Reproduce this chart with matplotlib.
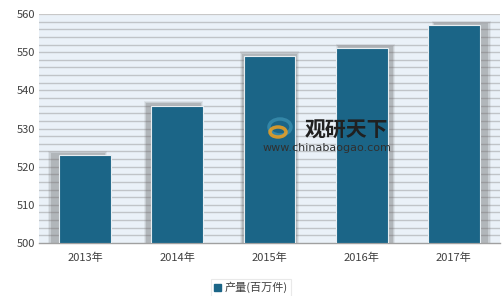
import matplotlib
matplotlib.use("Agg")
import matplotlib.pyplot as plt
from matplotlib.patches import Rectangle, Ellipse
import numpy as np

plt.rcParams['font.family'] = ['Noto Sans CJK SC', 'DejaVu Sans']

years = ["2013年", "2014年", "2015年", "2016年", "2017年"]
output = [523, 536, 549, 551, 557]
series_name = "产量(百万件)"

BAR = "#1b6587"
fig = plt.figure(figsize=(5.04, 2.96), dpi=100)
ax = fig.add_axes([39 / 504, 1 - 243 / 296, 461 / 504, 229 / 296])
ax.set_facecolor("#eaf1f8")

x = np.arange(len(years))
ax.set_xlim(-0.5, len(years) - 0.5)
ax.set_ylim(500, 560)

# grid every 2 units
for g in np.arange(502, 560, 2):
    ax.axhline(g, color="#c0c4c8", lw=1.0, zorder=1)
ax.axhline(560, color="#c8c8c8", lw=1.6, zorder=1)

# soft shadow behind each bar, pushed away from the centre
for i, v in enumerate(output):
    off = (i - 2) * 0.04
    for k, a in enumerate([0.10, 0.16, 0.24]):
        w = 0.56 + 0.08 - k * 0.025
        ax.bar(x[i] + off, v + 1.2 - k * 0.3 - 500, bottom=500, width=w,
               color="#686868", alpha=a, lw=0, zorder=2)

ax.bar(x, np.array(output) - 500, bottom=500, width=0.56, color=BAR,
       edgecolor="#e8eef2", lw=0.8, zorder=3, label=series_name)

ax.set_yticks(range(500, 561, 10))
ax.set_xticks(x)
ax.set_xticklabels(years)
ax.tick_params(axis="both", length=0, labelsize=8, colors="#404040")
ax.tick_params(axis="x", pad=7)
ax.tick_params(axis="y", pad=3)
for s in ["top", "right", "left"]:
    ax.spines[s].set_visible(False)
ax.spines["bottom"].set_color("#a0a0a0")
ax.spines["bottom"].set_linewidth(1.0)

# legend
leg = fig.legend(handles=[Rectangle((0, 0), 1, 1, color=BAR)], labels=[series_name],
                 loc="upper left", bbox_to_anchor=(205 / 504, 1 - 273 / 296),
                 frameon=True, fontsize=8, handlelength=0.6, handleheight=0.6,
                 handletextpad=0.4, borderpad=0.3, fancybox=False)
leg.get_frame().set_edgecolor("#e4e4e4")
leg.get_frame().set_linewidth(0.8)
for t in leg.get_texts():
    t.set_color("#404040")

# watermark (logo swirl + text)
fig.patches.append(Ellipse((280 / 504, 1 - 127 / 296), 22 / 504, 16 / 296,
                           transform=fig.transFigure, facecolor="none",
                           edgecolor="#3a8fb0", lw=2.5, alpha=0.8))
fig.patches.append(Ellipse((278 / 504, 1 - 132 / 296), 16 / 504, 10 / 296,
                           transform=fig.transFigure, facecolor="none",
                           edgecolor="#f0a020", lw=2.5, alpha=0.85))
fig.text(305 / 504, 1 - 130 / 296, "观研天下", fontsize=15, fontweight="bold",
         color="#202020", ha="left", va="center")
fig.text(263 / 504, 1 - 148 / 296, "www.chinabaogao.com", fontsize=8,
         color="#303030", ha="left", va="center", family="DejaVu Sans")

fig.savefig("out.png", dpi=100)
